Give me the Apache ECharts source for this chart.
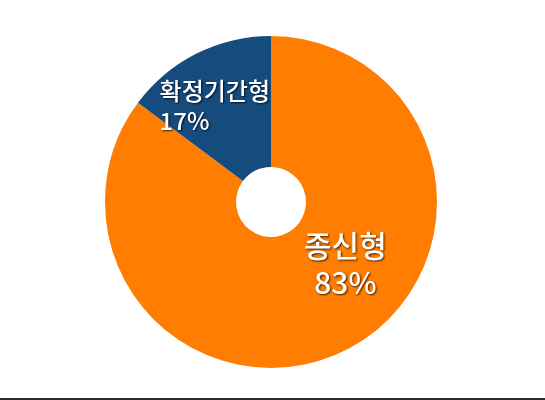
<!DOCTYPE html>
<html>
<head>
<meta charset="utf-8">
<script src="https://cdn.jsdelivr.net/npm/echarts@6/dist/echarts.min.js"></script>
<style>
html,body{margin:0;padding:0;background:#fff;}
#main{width:545px;height:400px;}
</style>
</head>
<body>
<div id="main"></div>
<script>
// Slice sizes as drawn in the picture (the printed labels read 83% / 17%)
const categories = ['종신형', '확정기간형'];
const values = [85.2, 14.8];
const percentLabels = ['83%', '17%'];
const colors = ['#FF7D00', '#154B7D'];

const shadow = {
  textShadowColor: 'rgba(0,0,0,0.75)', textShadowBlur: 2,
  textShadowOffsetX: 1, textShadowOffsetY: 1
};

const chart = echarts.init(document.getElementById('main'));
const data = categories.map((name, i) => ({
  name: name,
  value: values[i],
  itemStyle: { color: colors[i] },
  label: i === 0 ? {
    formatter: '{b}\n' + percentLabels[i],
    fontSize: 30,
    fontWeight: 500,
    lineHeight: 37,
    offset: [28, -30]
  } : {
    formatter: '{a|{b}}\n{a|' + percentLabels[i] + '}',
    offset: [-8, -4],
    rich: {
      a: Object.assign({ width: 114, align: 'left', fontSize: 24, fontWeight: 500,
           lineHeight: 30, color: '#fff', fontFamily: 'Noto Sans CJK KR' }, shadow)
    }
  }
}));

chart.setOption({
  animation: false,
  graphic: [{
    type: 'rect',
    shape: { x: 0, y: 398, width: 545, height: 2 },
    style: { fill: '#2f2d2b' }
  }],
  series: [{
    type: 'pie',
    center: [271, 202],
    radius: [35, 166],
    startAngle: 90,
    clockwise: true,
    data: data,
    label: Object.assign({
      show: true,
      position: 'inside',
      color: '#fff',
      fontFamily: 'Noto Sans CJK KR'
    }, shadow),
    labelLine: { show: false },
    emphasis: { disabled: true }
  }]
});
</script>
</body>
</html>
